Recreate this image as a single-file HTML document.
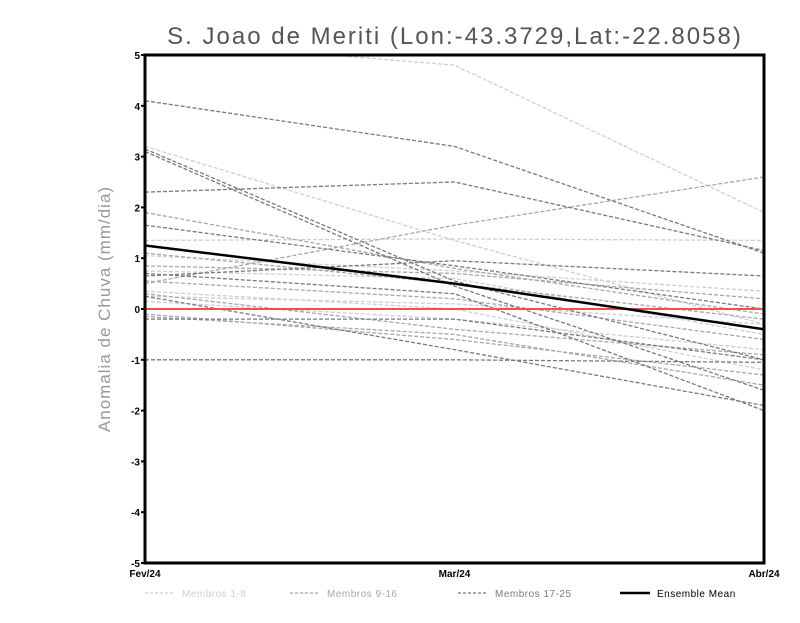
<!DOCTYPE html>
<html><head><meta charset="utf-8"><style>
body{margin:0;background:#fff;width:800px;height:618px;overflow:hidden;font-family:"Liberation Sans",sans-serif}
</style></head><body>
<svg id="chart" width="800" height="618" xmlns="http://www.w3.org/2000/svg">
<defs><clipPath id="pc"><rect x="145" y="55" width="619" height="508"/></clipPath></defs>
<text x="455" y="44" text-anchor="middle" font-size="24" fill="#555" font-family="Liberation Sans, sans-serif" letter-spacing="2">S. Joao de Meriti (Lon:-43.3729,Lat:-22.8058)</text>
<text transform="translate(110,309) rotate(-90)" text-anchor="middle" font-size="17" fill="#999" letter-spacing="1">Anomalia de Chuva (mm/dia)</text>
<g id="series" clip-path="url(#pc)"></g>
<g id="axes"></g>
<g id="legend"></g>
</svg>
<script>
const categories=["Fev/24","Mar/24","Abr/24"];
const yTicks=[-5,-4,-3,-2,-1,0,1,2,3,4,5];
const groupNames=["Membros 1-8","Membros 9-16","Membros 17-25"];
const members1to8=[[5.3,4.8,1.9],[3.2,1.35,-0.3],[1.35,1.38,1.35],[1.05,0.75,0.35],[0.25,0.1,-0.3],[0.15,-0.2,-0.8],[0.75,0.6,-0.5],[0.35,0.0,-1.2]];
const members9to16=[[0.5,1.65,2.6],[1.9,0.8,-0.1],[0.85,0.7,0.2],[0.3,-0.4,-0.9],[-0.1,-0.6,-1.3],[0.55,0.2,-0.6],[-0.15,-0.5,-1.5],[1.1,0.5,-0.2]];
const members17to25=[[4.1,3.2,1.1],[3.15,0.55,-1.0],[3.1,0.45,-1.6],[2.3,2.5,1.15],[1.65,0.85,0.0],[0.65,0.95,0.65],[-1.0,-1.0,-1.05],[-0.2,-0.2,-1.0],[0.25,-0.8,-1.9],[0.7,0.3,-2.0]];
const ensembleMean=[1.25,0.5,-0.4];
const X0=145,X1=764,Y0=563,Y1=55;
const xs=i=>X0+(X1-X0)*i/(categories.length-1);
const ys=v=>Y0-(v+5)/10*(Y0-Y1);
const NS="http://www.w3.org/2000/svg";
function mk(t,a,p){const e=document.createElementNS(NS,t);for(const k in a)e.setAttribute(k,a[k]);p.appendChild(e);return e;}
const S=document.getElementById('series'),A=document.getElementById('axes'),L=document.getElementById('legend');
const pts=d=>d.map((v,i)=>xs(i)+","+ys(v)).join(" ");
const groups=[[members1to8,"#cfcfcf"],[members9to16,"#a8a8a8"],[members17to25,"#7a7a7a"]];
groups.forEach(([arr,c],g)=>arr.forEach(d=>{
 const l=mk('polyline',{points:pts(d),fill:"none",stroke:c,"stroke-width":1.3,"stroke-dasharray":"4,2"},S);
 
 
}));
const z=mk('line',{x1:X0,x2:X1,y1:ys(0),y2:ys(0),stroke:"#f05050","stroke-width":2},S);


const m=mk('polyline',{points:pts(ensembleMean),fill:"none",stroke:"#000","stroke-width":2.5},S);


const fr=mk('rect',{x:X0,y:Y1,width:X1-X0,height:Y0-Y1,fill:"none",stroke:"#000","stroke-width":3},A);


yTicks.forEach(v=>{
 mk('line',{x1:X0-4,x2:X0,y1:ys(v),y2:ys(v),stroke:"#000","stroke-width":2},A);
 const t=mk('text',{x:X0-5,y:ys(v)+4,"text-anchor":"end","font-size":10,"font-weight":"bold"},A);
 t.textContent=v;
 
 
});
categories.forEach((c,i)=>{
 const t=mk('text',{x:xs(i),y:577,"text-anchor":"middle","font-size":10,"font-weight":"bold"},A);
 t.textContent=c;
 
 
});
const legX=[145,290,458,620];
const legItems=[[groupNames[0],"#cfcfcf"],[groupNames[1],"#a8a8a8"],[groupNames[2],"#7a7a7a"],["Ensemble Mean","#000"]];
legItems.forEach(([n,c],i)=>{
 const g=mk('g',{},L);
 
 
 const a={x1:legX[i],x2:legX[i]+30,y1:593,y2:593,stroke:c,"stroke-width":i==3?2.5:1.2};
 if(i<3)a["stroke-dasharray"]="3,2";
 mk('line',a,g);
 const t=mk('text',{x:legX[i]+37,y:597,"font-size":10,fill:i==3?"#000":c,"letter-spacing":"0.5"},g);
 t.textContent=n;
});
</script>
</body></html>
